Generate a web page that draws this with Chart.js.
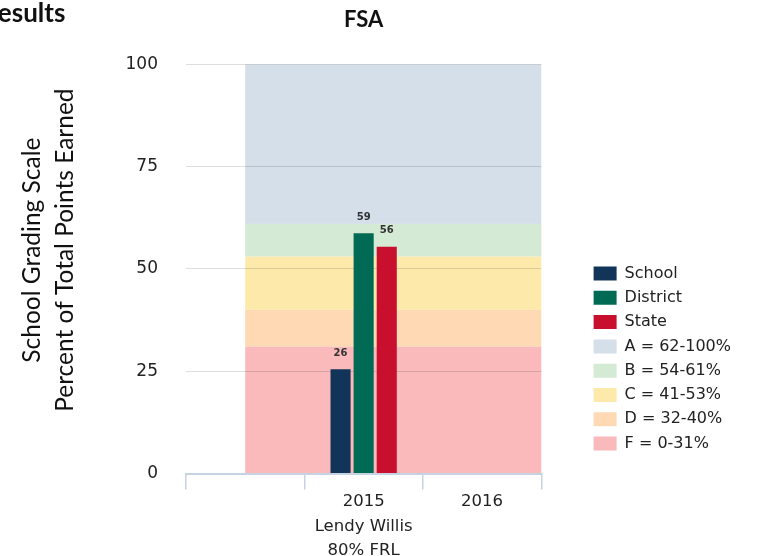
<!DOCTYPE html>
<html>
<head>
<meta charset="utf-8">
<script src="https://cdn.jsdelivr.net/npm/chart.js@4.4.1/dist/chart.umd.min.js"></script>
<style>
  body { margin: 0; background: #fff; }
  .wrap { position: relative; width: 759px; height: 556px; overflow: hidden; }
  .heading { position: absolute; left: -18px; top: 0; font: bold 26px Lato, sans-serif; line-height: 25px; color: #111; }
</style>
</head>
<body>
<div class="wrap">
  <canvas id="fsaChart" width="759" height="556"></canvas>
  <div class="heading">Results</div>
</div>
<script>
const categories = ["", ["2015", "Lendy Willis", "80% FRL"], "2016"];
const schoolScores = [null, 25.5, null];
const districtScores = [null, 58.7, null];
const stateScores = [null, 55.4, null];
const yTicks = [0, 25, 50, 75, 100];

// grading scale bands
const gradeLabels = ["A = 62-100%", "B = 54-61%", "C = 41-53%", "D = 32-40%", "F = 0-31%"];
const gradeLow = [61, 53, 40, 31, 0];
const gradeHigh = [100, 61, 53, 40, 31];
const gradeColors = ["#d4dfea", "#d5ead4", "#fdeaaa", "#fed9b4", "#fababb"];

const font = "DejaVu Sans";

// bands start at the middle of the first (empty) category
const gradeBands = {
  id: "gradeBands",
  beforeDraw(chart) {
    const { ctx, chartArea, scales: { x, y } } = chart;
    const left = x.getPixelForValue(0);
    ctx.save();
    gradeLow.forEach((lo, i) => {
      const top = y.getPixelForValue(gradeHigh[i]);
      const bottom = y.getPixelForValue(lo);
      ctx.fillStyle = gradeColors[i];
      ctx.fillRect(left, top, chartArea.right - left, bottom - top);
    });
    ctx.restore();
  },
};

const barValues = {
  id: "barValues",
  afterDatasetsDraw(chart) {
    const { ctx } = chart;
    ctx.save();
    ctx.font = "bold 10px '" + font + "'";
    ctx.fillStyle = "#333";
    ctx.textAlign = "center";
    ctx.textBaseline = "middle";
    chart.data.datasets.forEach((ds, i) => {
      chart.getDatasetMeta(i).data.forEach((bar, j) => {
        const v = ds.data[j];
        if (v == null) return;
        ctx.fillText(Math.ceil(v), bar.x, bar.y - 16);
      });
    });
    ctx.restore();
  },
};

const ctx = document.getElementById("fsaChart").getContext("2d");
new Chart(ctx, {
  type: "bar",
  data: {
    labels: categories,
    datasets: [
      { label: "School", data: schoolScores, backgroundColor: "#123458" },
      { label: "District", data: districtScores, backgroundColor: "#006a54" },
      { label: "State", data: stateScores, backgroundColor: "#c8102e" },
    ],
  },
  options: {
    responsive: false,
    animation: false,
    categoryPercentage: 0.585,
    barPercentage: 0.87,
    layout: { padding: { left: 12, right: 18, top: 0, bottom: -7 } },
    scales: {
      x: {
        grid: { drawOnChartArea: false, tickLength: 16, color: "#c5d3e3", lineWidth: 1.5 },
        border: { color: "#c5d3e3", width: 2 },
        ticks: {
          color: "#222",
          font: { family: font, size: 16.5, lineHeight: "24.5px" },
          padding: 0,
          maxRotation: 0,
          autoSkip: false,
        },
      },
      y: {
        min: 0,
        max: 100,
        afterBuildTicks: (s) => { s.ticks = yTicks.map((v) => ({ value: v })); },
        afterFit(s) { s.width = 174; },
        grid: { color: "rgba(0,0,0,0.13)", drawTicks: false },
        border: { display: false },
        ticks: { color: "#222", font: { family: font, size: 17 }, padding: 28 },
        title: {
          display: true,
          text: ["      School Grading Scale", "      Percent of Total Points Earned"],
          color: "#111",
          font: { family: "Lato", size: 24.5, lineHeight: "33px" },
          padding: { top: 4, bottom: 44 },
        },
      },
      // spacer between plot and legend
      gap: {
        type: "linear",
        position: "right",
        grid: { display: false },
        ticks: { display: false },
        border: { display: false },
        afterFit(scale) { scale.width = 44; },
      },
    },
    plugins: {
      tooltip: { enabled: false },
      title: {
        display: true,
        text: "FSA",
        fullSize: false,
        color: "#111",
        font: { family: "Lato", size: 22, weight: "bold" },
        padding: { top: 7, bottom: 31 },
      },
      legend: {
        position: "right",
        align: "start",
        maxWidth: 300,
        title: { display: true, text: "", font: { size: 1 }, padding: { top: 256, bottom: 0 } },
        labels: {
          color: "#222",
          font: { family: font, size: 16 },
          boxWidth: 23,
          boxHeight: 14,
          padding: 8.3,
          generateLabels(chart) {
            const items = chart.data.datasets.map((ds, i) => ({
              text: ds.label,
              fillStyle: ds.backgroundColor,
              strokeStyle: ds.backgroundColor,
              fontColor: "#222",
              lineWidth: 0,
              hidden: false,
              datasetIndex: i,
            }));
            gradeLabels.forEach((t, i) => {
              items.push({ text: t, fillStyle: gradeColors[i], strokeStyle: gradeColors[i], fontColor: "#222", lineWidth: 0, hidden: false });
            });
            return items;
          },
        },
      },
    },
  },
  plugins: [gradeBands, barValues],
});
</script>
</body>
</html>
